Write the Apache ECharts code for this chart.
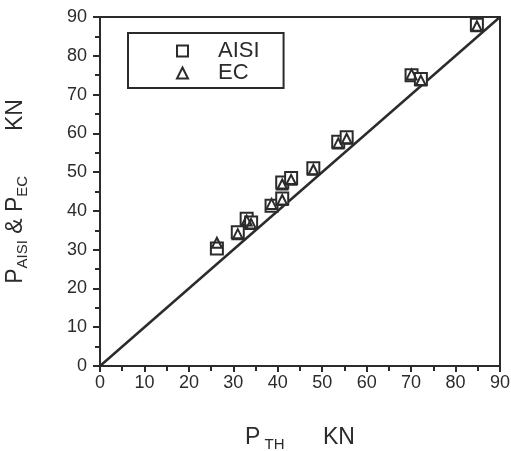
<!DOCTYPE html>
<html>
<head>
<meta charset="utf-8">
<script src="https://cdn.jsdelivr.net/npm/echarts@6/dist/echarts.min.js"></script>
<style>html,body{margin:0;padding:0;background:#fff;}#c{width:511px;height:451px;}</style>
</head>
<body>
<div id="c"></div>
<script>
const pTH  = [26.3, 31.0, 33.0, 34.0, 38.6, 41.0, 41.0, 43.0, 48.0, 53.6, 55.5, 70.1, 72.2, 84.8];
const pAISI = [30.3, 34.5, 38.0, 37.0, 41.3, 43.2, 47.3, 48.5, 51.0, 57.8, 59.0, 75.0, 74.0, 88.0];
const pEC   = [31.8, 34.0, 37.5, 36.6, 41.8, 42.8, 46.8, 48.0, 50.6, 57.4, 58.6, 75.2, 73.6, 87.6];
const lineX = [0, 90];
const lineY = [0, 90];
const tickMin = 0, tickMax = 90, tickStep = 10;

const ink = '#2b2b2b';
const chart = echarts.init(document.getElementById('c'), null, {renderer: 'canvas'});
const font = 'Liberation Sans, Arial, sans-serif';
chart.setOption({
  backgroundColor: '#ffffff',
  animation: false,
  grid: {left: 100, right: 11, top: 17, bottom: 85, containLabel: false, outerBoundsMode: 'none',
         show: true, borderColor: ink, borderWidth: 2, backgroundColor: 'transparent'},
  legend: {
    orient: 'vertical', left: 128, top: 33,
    padding: [7, 24, 4, 48], itemGap: 0,
    itemWidth: 11, itemHeight: 11,
    borderColor: ink, borderWidth: 2, borderRadius: 0,
    data: ['AISI', 'EC'],
    formatter: '{a|{name}}',
    textStyle: {color: ink, fontFamily: font, rich: {a: {fontSize: 22, lineHeight: 23, padding: [0, 0, 0, 25], color: ink, fontFamily: font}}}
  },
  xAxis: {
    type: 'value', min: tickMin, max: tickMax, interval: tickStep,
    axisLine: {show: true, lineStyle: {color: ink, width: 2}},
    axisTick: {show: true, length: 6, lineStyle: {color: ink, width: 2}},
    minorTick: {show: true, splitNumber: 2, length: 5, lineStyle: {color: ink, width: 2}},
    splitLine: {show: false},
    axisLabel: {color: ink, fontSize: 18, fontFamily: font, margin: 8},
    name: '{p|P}{s| TH}{p|      KN}', nameLocation: 'middle', nameGap: 58,
    nameTextStyle: {color: ink, fontFamily: font, rich: {
      p: {fontSize: 23, color: ink, fontFamily: font, lineHeight: 28, verticalAlign: 'middle'},
      s: {fontSize: 15, color: ink, fontFamily: font, verticalAlign: 'bottom', lineHeight: 14}
    }}
  },
  yAxis: {
    type: 'value', min: tickMin, max: tickMax, interval: tickStep,
    axisLine: {show: true, lineStyle: {color: ink, width: 2}},
    axisTick: {show: true, length: 7, lineStyle: {color: ink, width: 2}},
    minorTick: {show: true, splitNumber: 2, length: 5, lineStyle: {color: ink, width: 2}},
    splitLine: {show: false},
    axisLabel: {color: ink, fontSize: 18, fontFamily: font, margin: 13},
    name: '{p|P}{s|AISI}{p| & P}{s|EC}{p|       KN}', nameLocation: 'middle', nameGap: 70, nameRotate: 90,
    nameTextStyle: {color: ink, fontFamily: font, rich: {
      p: {fontSize: 23, color: ink, fontFamily: font, lineHeight: 28, verticalAlign: 'middle'},
      s: {fontSize: 15, color: ink, fontFamily: font, verticalAlign: 'bottom', lineHeight: 14}
    }}
  },
  series: [
    {
      name: 'diag', type: 'line', data: lineX.map((x, i) => [x, lineY[i]]),
      showSymbol: false, symbol: 'none', lineStyle: {color: ink, width: 2.5}, z: 1, silent: true
    },
    {
      name: 'AISI', type: 'scatter', symbol: 'rect', symbolSize: 12,
      data: pTH.map((x, i) => [x, pAISI[i]]),
      itemStyle: {color: '#ffffff', borderColor: ink, borderWidth: 2, opacity: 1}, z: 3
    },
    {
      name: 'EC', type: 'scatter', symbol: 'triangle', symbolSize: 10,
      data: pTH.map((x, i) => [x, pEC[i]]),
      itemStyle: {color: 'rgba(255,255,255,0)', borderColor: ink, borderWidth: 2, opacity: 1}, z: 4
    }
  ]
});
</script>
</body>
</html>
